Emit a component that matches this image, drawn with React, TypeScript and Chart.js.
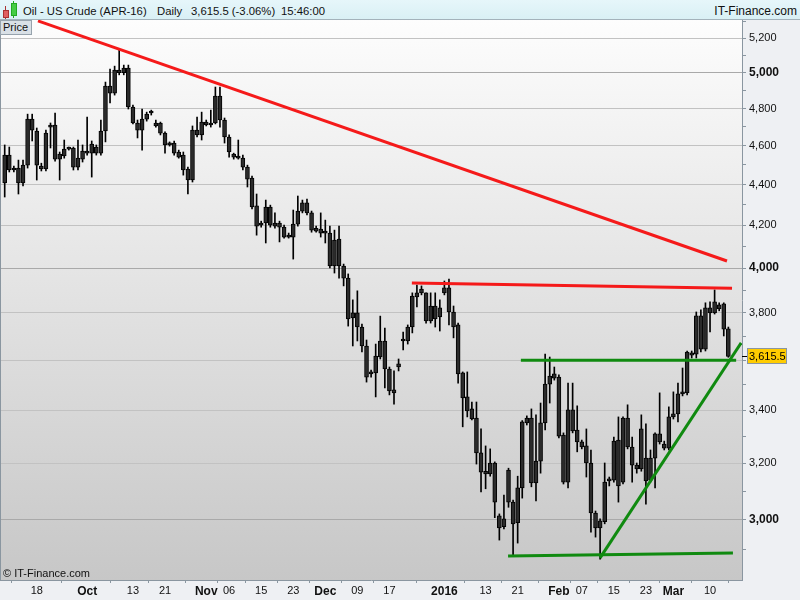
import React, { useEffect, useRef } from 'react';
import { Chart, registerables } from 'chart.js';

Chart.register(...registerables);

// Daily OHLC, Oil - US Crude (APR-16), 10 Sep 2015 .. 15 Mar 2016 (index = trading session)
const opens = [
  4408, 4551, 4474, 4484, 4408, 4499, 4742, 4678, 4494, 4479,
  4699, 4710, 4530, 4546, 4582, 4588, 4489, 4530, 4561, 4561,
  4593, 4561, 4678, 4925, 4885, 5015, 5000, 5027, 4808, 4721,
  4683, 4742, 4775, 4721, 4721, 4667, 4604, 4614, 4567, 4551,
  4479, 4423, 4683, 4657, 4726, 4710, 4721, 4869, 4737, 4646,
  4556, 4546, 4535, 4489, 4433, 4294, 4201, 4211, 4289, 4211,
  4191, 4191, 4144, 4144, 4206, 4269, 4309, 4260, 4186, 4182,
  4163, 4163, 4009, 4134, 4009, 3954, 3778, 3800, 3739, 3659,
  3544, 3548, 3613, 3680, 3564, 3480, 3572, 3680, 3680, 3739,
  3870, 3888, 3888, 3765, 3830, 3782, 3888, 3910, 3804, 3748,
  3548, 3452, 3405, 3370, 3238, 3161, 3161, 3201, 3013, 2976,
  3061, 3061, 2990, 3111, 3351, 3370, 3129, 3208, 3351, 3503,
  3544, 3531, 3305, 3132, 3401, 3324, 3279, 3264, 3201, 3023,
  2972, 2993, 3136, 3139, 3286, 3132, 3370, 3260, 3193, 3179,
  3219, 3139, 3219, 3309, 3271, 3256, 3374, 3386, 3464, 3468,
  3621, 3625, 3787, 3646, 3822, 3800, 3835, 3839, 3731,
];
const highs = [
  4604, 4593, 4494, 4525, 4525, 4769, 4769, 4694, 4509, 4683,
  4721, 4775, 4567, 4630, 4593, 4593, 4630, 4604, 4753, 4625,
  4604, 4737, 4947, 5021, 5038, 5132, 5044, 5044, 4819, 4737,
  4797, 4780, 4791, 4737, 4726, 4673, 4620, 4625, 4577, 4567,
  4489, 4705, 4753, 4780, 4737, 4791, 4919, 4919, 4748, 4657,
  4561, 4630, 4551, 4499, 4443, 4353, 4220, 4323, 4298, 4260,
  4220, 4201, 4163, 4274, 4343, 4323, 4328, 4269, 4196, 4260,
  4225, 4196, 4177, 4196, 4018, 3973, 3857, 3897, 3752, 3684,
  3560, 3667, 3786, 3735, 3572, 3556, 3605, 3718, 3748, 3888,
  3923, 3919, 3888, 3888, 3888, 3857, 3941, 3950, 3830, 3756,
  3552, 3552, 3432, 3432, 3328, 3264, 3253, 3205, 3020, 3086,
  3182, 3068, 3153, 3360, 3378, 3405, 3382, 3428, 3625, 3613,
  3572, 3540, 3313, 3507, 3507, 3417, 3286, 3328, 3249, 3030,
  3003, 3201, 3150, 3297, 3374, 3374, 3421, 3297, 3201, 3382,
  3347, 3249, 3313, 3468, 3282, 3413, 3472, 3507, 3568, 3638,
  3638, 3804, 3813, 3844, 3848, 3901, 3844, 3844, 3739,
];
const lows = [
  4338, 4464, 4464, 4353, 4393, 4484, 4625, 4423, 4469, 4469,
  4588, 4520, 4423, 4535, 4577, 4474, 4474, 4515, 4551, 4438,
  4551, 4551, 4620, 4830, 4874, 4988, 4988, 4797, 4716, 4641,
  4577, 4731, 4764, 4699, 4657, 4561, 4598, 4551, 4535, 4448,
  4353, 4413, 4646, 4630, 4705, 4699, 4716, 4699, 4614, 4540,
  4530, 4530, 4474, 4388, 4279, 4153, 4191, 4116, 4191, 4186,
  4121, 4139, 4139, 4041, 4196, 4260, 4250, 4167, 4167, 4144,
  4116, 4000, 3977, 3954, 3919, 3743, 3659, 3680, 3634, 3511,
  3531, 3452, 3605, 3488, 3460, 3424, 3556, 3642, 3667, 3714,
  3826, 3879, 3756, 3756, 3739, 3722, 3879, 3748, 3693, 3507,
  3336, 3374, 3362, 3197, 3097, 3108, 3153, 3007, 2931, 2969,
  3043, 2882, 2921, 3075, 3343, 3115, 3065, 3164, 3324, 3428,
  3519, 3294, 3125, 3111, 3313, 3242, 3253, 3150, 2958, 2941,
  2868, 2986, 3118, 3132, 3061, 3125, 3253, 3132, 3164, 3171,
  3054, 3132, 3111, 3271, 3249, 3249, 3366, 3355, 3456, 3460,
  3609, 3609, 3634, 3638, 3718, 3795, 3809, 3701, 3612,
];
const closes = [
  4551, 4474, 4484, 4408, 4499, 4742, 4683, 4499, 4479, 4667,
  4710, 4530, 4556, 4582, 4588, 4489, 4535, 4572, 4572, 4609,
  4561, 4678, 4925, 4885, 5015, 5000, 5027, 4808, 4721, 4683,
  4742, 4769, 4786, 4705, 4667, 4604, 4614, 4561, 4540, 4474,
  4423, 4683, 4657, 4726, 4710, 4721, 4869, 4737, 4646, 4567,
  4540, 4535, 4489, 4428, 4289, 4196, 4211, 4289, 4201, 4196,
  4211, 4144, 4153, 4206, 4269, 4309, 4260, 4177, 4172, 4163,
  4172, 4009, 4130, 4009, 3954, 3774, 3800, 3739, 3659, 3531,
  3552, 3617, 3680, 3564, 3476, 3468, 3585, 3688, 3739, 3874,
  3888, 3905, 3765, 3830, 3774, 3822, 3910, 3804, 3739, 3544,
  3448, 3397, 3366, 3238, 3168, 3171, 3201, 3061, 2972, 3003,
  3175, 2986, 3111, 3355, 3370, 3129, 3208, 3351, 3503, 3535,
  3527, 3301, 3132, 3401, 3320, 3279, 3260, 3201, 3023, 2972,
  2996, 3132, 3143, 3282, 3118, 3370, 3260, 3193, 3179, 3328,
  3136, 3219, 3309, 3279, 3256, 3374, 3386, 3464, 3472, 3634,
  3630, 3787, 3646, 3822, 3800, 3848, 3817, 3730, 3615.5,
];

// x-axis ticks (session index -> label)
const xTickIndex = [7, 18, 28, 35, 44, 49, 56, 63, 70, 77, 84, 96, 105, 112, 121, 126, 133, 140, 146, 154];
const xTickLabels = ['18', 'Oct', '13', '21', 'Nov', '06', '15', '23', 'Dec', '09', '17', '2016', '13', '21', 'Feb', '07', '15', '23', 'Mar', '10'];
const xBoldLabels = ['Oct', 'Nov', 'Dec', '2016', 'Feb', 'Mar'];

// y-axis ticks
const yTickValues = [2900, 3000, 3100, 3200, 3300, 3400, 3500, 3600, 3700, 3800, 3900, 4000, 4100, 4200, 4300, 4400, 4500, 4600, 4700, 4800, 4900, 5000, 5100, 5200, 5300];
const yLabelValues = [3000, 3200, 3400, 3800, 4000, 4200, 4400, 4600, 4800, 5000, 5200];
const yBoldValues = [3000, 4000, 5000];
const yGridValues = [3000, 3200, 3400, 3600, 3800, 4000, 4200, 4400, 4600, 4800, 5000, 5200];

// drawn trend lines (session index, price)
const redTrendX = [7.27, 157.7];
const redTrendY = [5305, 4032];
const redFlatX = [88.9, 158.8];
const redFlatY = [3932, 3908];
const greenTopX = [112.7, 159.7];
const greenTopY = [3600, 3600];
const greenBottomX = [109.9, 159.0];
const greenBottomY = [2878, 2888];
const greenRiseX = [130.0, 160.8];
const greenRiseY = [2872, 3672];

const lastPrice = 3615.5;
const FONT = '"Liberation Sans", Arial, sans-serif';

const toPts = (xs: number[], ys: number[]) => xs.map((x, i) => ({ x, y: ys[i] }));

const fmt = (v: number) => Math.round(v).toString().replace(/\B(?=(\d{3})+(?!\d))/g, ',');

const bgPlugin = {
  id: 'itBg',
  beforeDraw(chart: any) {
    const { ctx, chartArea: a, width, height } = chart;
    ctx.save();
    ctx.fillStyle = '#eef0f3';
    ctx.fillRect(0, 0, width, height);
    const g = ctx.createLinearGradient(0, a.top, 0, a.bottom);
    g.addColorStop(0, '#fdfdfd');
    g.addColorStop(1, '#c7c7c7');
    ctx.fillStyle = g;
    ctx.fillRect(a.left, a.top, a.right - a.left, a.bottom - a.top);
    ctx.restore();
  },
  afterDraw(chart: any) {
    const { ctx, chartArea: a } = chart;
    const y = chart.scales.y.getPixelForValue(lastPrice);
    ctx.save();
    ctx.strokeStyle = '#8a96a0';
    ctx.lineWidth = 1;
    ctx.beginPath();
    ctx.moveTo(a.left + 0.5, a.top);
    ctx.lineTo(a.left + 0.5, a.bottom);
    ctx.stroke();
    // last price tag
    const bx = a.right + 5;
    const bw = 40;
    const bh = 16;
    ctx.fillStyle = '#ffcc00';
    ctx.fillRect(bx, Math.round(y - bh / 2), bw, bh);
    ctx.strokeStyle = '#8a96a0';
    ctx.strokeRect(bx + 0.5, Math.round(y - bh / 2) + 0.5, bw - 1, bh - 1);
    ctx.strokeStyle = '#000';
    ctx.beginPath();
    ctx.moveTo(a.right, Math.round(y) + 0.5);
    ctx.lineTo(a.right + 5, Math.round(y) + 0.5);
    ctx.stroke();
    ctx.fillStyle = '#000';
    ctx.font = `11px ${FONT}`;
    ctx.textBaseline = 'middle';
    ctx.textAlign = 'left';
    ctx.fillText('3,615.5', bx + 2, y + 1);
    ctx.restore();
  },
};

export default function App() {
  const ref = useRef<HTMLCanvasElement | null>(null);

  useEffect(() => {
    document.body.style.margin = '0';
    const canvas = ref.current;
    if (!canvas) return;
    const idx = opens.map((_, i) => i);
    const bodies = idx.map((i) => ({ x: i, y: [Math.min(opens[i], closes[i]), Math.max(opens[i], closes[i])] }));
    const wicks = idx.map((i) => ({ x: i, y: [lows[i], highs[i]] }));
    const lineDs = (xs: number[], ys: number[], color: string) => ({
      type: 'line',
      data: toPts(xs, ys),
      borderColor: color,
      borderWidth: 3,
      pointRadius: 0,
      tension: 0,
      order: -1,
    });

    const chart = new Chart(canvas, {
      type: 'bar',
      data: {
        datasets: [
          { type: 'bar', data: wicks, backgroundColor: '#000', borderWidth: 0, barThickness: 1, grouped: false, order: 2 },
          {
            type: 'bar', data: bodies, backgroundColor: '#2b2b2b', borderColor: '#000', borderWidth: 1,
            borderSkipped: false, barThickness: 4, minBarLength: 2, grouped: false, order: 1,
          },
          lineDs(redTrendX, redTrendY, '#f51a1a'),
          lineDs(redFlatX, redFlatY, '#f51a1a'),
          lineDs(greenTopX, greenTopY, '#108a10'),
          lineDs(greenBottomX, greenBottomY, '#108a10'),
          lineDs(greenRiseX, greenRiseY, '#108a10'),
        ] as any,
      },
      options: {
        animation: false,
        responsive: false,
        devicePixelRatio: 1,
        layout: { padding: { top: 20, left: 0, right: 0, bottom: 0 } },
        plugins: { legend: { display: false }, tooltip: { enabled: false } },
        scales: {
          x: {
            type: 'linear',
            min: -1.026,
            max: 160.98,
            offset: false,
            grid: { drawOnChartArea: false, tickLength: 3, tickColor: '#8a96a0' },
            border: { color: '#8a96a0' },
            afterBuildTicks: (s: any) => { s.ticks = xTickIndex.map((v) => ({ value: v })); },
            afterFit: (s: any) => { s.height = 20; },
            ticks: {
              autoSkip: false,
              maxRotation: 0,
              padding: 1,
              color: '#111',
              font: (c: any) => {
                const lab = xTickLabels[c.index];
                return xBoldLabels.includes(lab)
                  ? { family: FONT, size: 12, weight: 'bold' }
                  : { family: FONT, size: 11, weight: 'normal' };
              },
              callback: (_v: any, i: number) => xTickLabels[i],
            },
          },
          y: {
            type: 'logarithmic',
            position: 'right',
            min: 2800.3,
            max: 5310.7,
            grid: {
              tickLength: 4,
              color: (c: any) => {
                const v = c.tick ? c.tick.value : 0;
                if (!yGridValues.includes(v)) return 'rgba(0,0,0,0)';
                return yBoldValues.includes(v) ? '#a9a9a9' : '#c2c2c2';
              },
              tickColor: '#8a96a0',
            },
            border: { color: '#8a96a0' },
            afterBuildTicks: (s: any) => { s.ticks = yTickValues.map((v) => ({ value: v })); },
            afterFit: (s: any) => { s.width = 58; },
            ticks: {
              autoSkip: false,
              padding: 3,
              color: '#111',
              font: (c: any) => {
                const v = c.tick ? c.tick.value : 0;
                return yBoldValues.includes(v)
                  ? { family: FONT, size: 12, weight: 'bold' }
                  : { family: FONT, size: 11, weight: 'normal' };
              },
              callback: (v: any) => (yLabelValues.includes(Number(v)) ? fmt(Number(v)) : ''),
            },
          },
        },
      } as any,
      plugins: [bgPlugin],
    });
    return () => chart.destroy();
  }, []);

  const txt: React.CSSProperties = { position: 'absolute', top: 4, whiteSpace: 'pre', lineHeight: '14px', fontSize: 11.3 };

  return (
    <div style={{ position: 'fixed', left: 0, top: 0, width: 800, height: 600, overflow: 'hidden', background: '#eef0f3', fontFamily: FONT }}>
      <canvas ref={ref} width={800} height={600} style={{ position: 'absolute', left: 0, top: 0, width: 800, height: 600 }} />
      <div style={{ position: 'absolute', left: 0, top: 0, width: 800, height: 19, background: 'linear-gradient(#e6f6fa, #d9f0f5)', borderBottom: '1px solid #a3b2bb', color: '#111' }}>
        <div style={{ position: 'absolute', left: 5, top: 6, width: 1, height: 13, background: '#a33' }} />
        <div style={{ position: 'absolute', left: 3, top: 10, width: 4, height: 6, background: '#e06060', border: '1px solid #a33' }} />
        <div style={{ position: 'absolute', left: 13, top: 1, width: 1, height: 17, background: '#2a2' }} />
        <div style={{ position: 'absolute', left: 11, top: 3, width: 4, height: 11, background: '#4c4', border: '1px solid #2a2' }} />
        <span style={{ ...txt, left: 23 }}>Oil - US Crude (APR-16)</span>
        <span style={{ ...txt, left: 157 }}>Daily</span>
        <span style={{ ...txt, left: 191 }}>3,615.5 (-3.06%)</span>
        <span style={{ ...txt, left: 281 }}>15:46:00</span>
        <span style={{ ...txt, right: 3, fontSize: 12 }}>IT-Finance.com</span>
      </div>
      <div style={{ position: 'absolute', left: 0, top: 20, width: 28, height: 13, background: '#d9e0e6', border: '1px solid #97a3ad', fontSize: 11, lineHeight: '13px', paddingLeft: 2, color: '#111' }}>Price</div>
      <div style={{ position: 'absolute', left: 3, top: 567, fontSize: 11, lineHeight: '13px', color: '#111' }}>© IT-Finance.com</div>
    </div>
  );
}
